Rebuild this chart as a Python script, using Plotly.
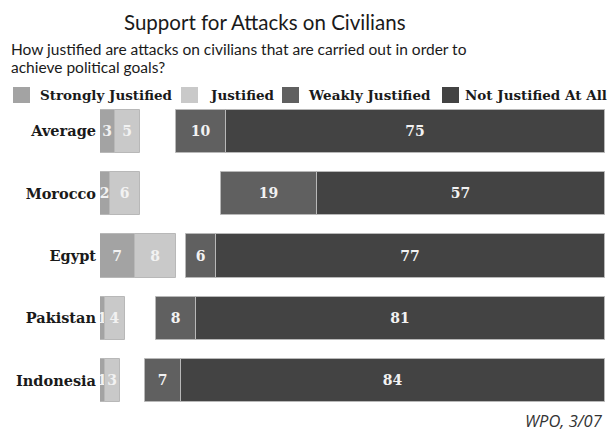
import plotly.graph_objects as go

countries = ["Average", "Morocco", "Egypt", "Pakistan", "Indonesia"]
series_names = ["Strongly Justified", "Justified", "Weakly Justified", "Not Justified At All"]
strongly = [3, 2, 7, 1, 1]
justified = [5, 6, 8, 4, 3]
weakly = [10, 19, 6, 8, 7]
not_at_all = [75, 57, 77, 81, 84]
colors = ["#a3a3a3", "#c9c9c9", "#606060", "#434343"]

# plot area in pixels
L, R, T, B = 100, 4, 100, 19
W, H = 610, 431
PW, PH = W - L - R, H - T - B


def px(x):
    return (x - L) / PW


def py(y):
    return (H - B - y) / PH


right_total = [w + n for w, n in zip(weakly, not_at_all)]
base_weak = [100 - t for t in right_total]
base_not = [100 - n for n in not_at_all]

fig = go.Figure()
trace_specs = [
    (strongly, [0] * len(countries)),
    (justified, strongly),
    (weakly, base_weak),
    (not_at_all, base_not),
]
for i, (vals, base) in enumerate(trace_specs):
    fig.add_trace(go.Bar(
        y=countries, x=vals, base=base, orientation="h", name=series_names[i],
        marker=dict(color=colors[i], line=dict(color="#b8b8b8", width=1)),
        width=0.69,
        text=[str(v) for v in vals], textposition="inside", insidetextanchor="middle",
        constraintext="none",
        textfont=dict(family="DejaVu Serif", size=14, color="#f2f2f2", weight="bold"),
        showlegend=False,
    ))

fig.update_layout(
    width=W, height=H,
    margin=dict(l=L, r=R, t=T, b=B),
    paper_bgcolor="white", plot_bgcolor="white",
    barmode="overlay", bargap=0,
    uniformtext=dict(minsize=14, mode="show"),
    xaxis=dict(range=[0, 100.2], visible=False, fixedrange=True),
    yaxis=dict(autorange="reversed", showgrid=False, zeroline=False, showline=False,
               ticks="", ticklabelstandoff=3,
               tickfont=dict(family="DejaVu Serif", size=14.5, color="#1a1a1a", weight="bold")),
)

ann = []
ann.append(dict(text="Support for Attacks on Civilians", x=px(265), y=py(22), xref="paper", yref="paper",
                xanchor="center", yanchor="middle", showarrow=False,
                font=dict(family="Lato", size=20.5, color="#1a1a1a")))
sub_lines = ["How justified are attacks on civilians that are carried out in order to",
             "achieve political goals?"]
for k, line in enumerate(sub_lines):
    ann.append(dict(text=line, x=px(9), y=py(49 + 18 * k), xref="paper", yref="paper",
                    xanchor="left", yanchor="middle", align="left", showarrow=False,
                    font=dict(family="Lato", size=15.5, color="#1a1a1a")))
ann.append(dict(text="<i>WPO, 3/07</i>", x=px(605), y=py(420), xref="paper", yref="paper",
                xanchor="right", yanchor="middle", showarrow=False,
                font=dict(family="Open Sans", size=16.5, color="#333333")))

legend_sq = [13, 181, 282, 442]
legend_tx = [38, 208, 306, 463]
shapes = []
for i, name in enumerate(series_names):
    shapes.append(dict(type="rect", xref="paper", yref="paper",
                       x0=px(legend_sq[i]), x1=px(legend_sq[i] + 17), y0=py(103), y1=py(87),
                       fillcolor=colors[i], line=dict(width=0)))
    ann.append(dict(text=name, x=px(legend_tx[i]), y=py(95), xref="paper", yref="paper",
                    xanchor="left", yanchor="middle", showarrow=False,
                    font=dict(family="DejaVu Serif", size=13.5, color="#1a1a1a", weight="bold")))

fig.update_layout(annotations=ann, shapes=shapes)
fig.write_html("out.html")
